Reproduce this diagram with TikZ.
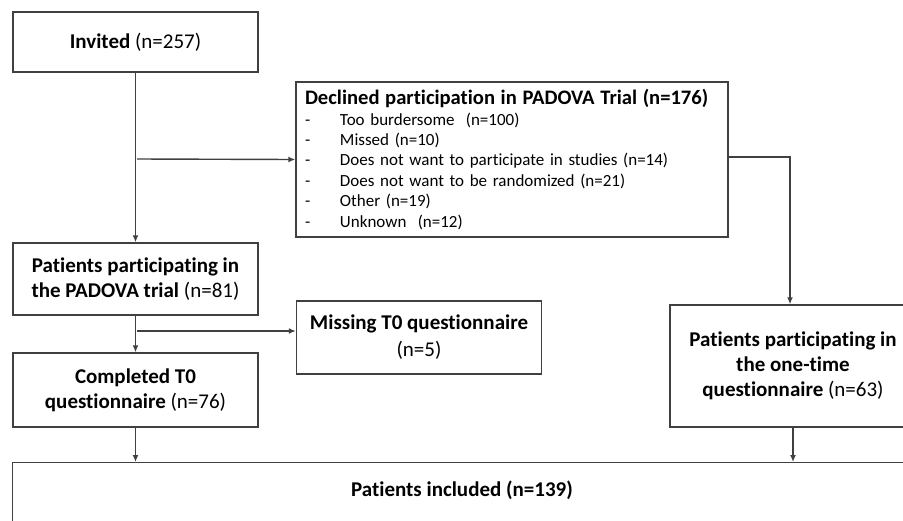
\documentclass[tikz,border=0pt]{standalone}
\usepackage{fontspec}
\setmainfont{Carlito}[Ligatures=NoCommon]
\usetikzlibrary{arrows.meta}

\begin{document}
\begin{tikzpicture}[x=1pt, y=-1pt,
  box/.style={draw=black!75, line width=1.4pt, minimum width=245pt, align=center,
    font=\fontsize{21}{25}\selectfont, inner sep=2pt},
  arr/.style={draw=black!75, line width=1.4pt, -{Latex[length=7pt,width=6pt]}},
  ln/.style={draw=black!75, line width=1.4pt}]

\useasboundingbox (0,0) rectangle (903,520);

\node[box, minimum height=60pt] (n1) at (135.5, 42) {\textbf{Invited} (n=257)};
\node[box, minimum width=432pt, minimum height=155pt, text width=414pt, inner xsep=9pt,
  align=left, font=\fontsize{17}{20.4}\selectfont] (n2) at (512, 159.5)
  {{\fontsize{20.6}{22}\selectfont\textbf{Declined participation in PADOVA Trial (n=176)}}\\
   \makebox[35pt][l]{-}Too burdersome~ (n=100)\\
   \makebox[35pt][l]{-}Missed (n=10)\\
   \makebox[35pt][l]{-}Does not want to participate in studies (n=14)\\
   \makebox[35pt][l]{-}Does not want to be randomized (n=21)\\
   \makebox[35pt][l]{-}Other (n=19)\\
   \makebox[35pt][l]{-}Unknown~ (n=12)};
\node[box, minimum height=72pt] (n3) at (135.5, 279) {\textbf{Patients participating in}\\\textbf{the PADOVA trial} (n=81)};
\node[box, minimum height=73pt] (n4) at (419, 337.5) {\textbf{Missing T0 questionnaire}\\[2pt](n=5)};
\node[box, minimum height=74pt] (n5) at (135.5, 390) {\textbf{Completed T0}\\\textbf{questionnaire} (n=76)};
\node[box, minimum width=246pt, minimum height=122pt] (n6) at (793, 366) {\textbf{Patients participating in}\\\textbf{the one-time}\\\textbf{questionnaire} (n=63)};
\node[box, minimum width=900pt, minimum height=62pt, anchor=north west] (n7) at (12, 462) {};
\node[font=\fontsize{21}{25}\selectfont] (t7) at (462, 490) {\textbf{Patients included (n=139)}};

\coordinate (b1) at (137, 159);
\coordinate (b2) at (137, 331);

\draw[arr] (n1) -- (n3);
\draw[arr] (b1) -- (n2.west);
\draw[ln] (n2.east |- 0,157) -| (790, 300);
\draw[arr] (790, 157) -- (n6.north -| 790, 0);
\draw[arr] (n3) -- (n5);
\draw[arr] (b2) -- (b2 -| n4.west);
\draw[arr] (n5) -- (n5.south |- n7.north);
\draw[arr] (n6) -- (n6.south |- n7.north);

\end{tikzpicture}
\end{document}
